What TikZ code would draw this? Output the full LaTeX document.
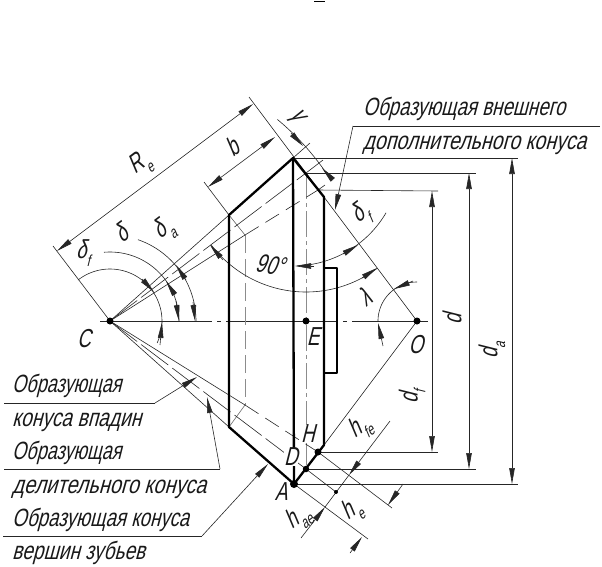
\documentclass[tikz,border=0pt]{standalone}
\usepackage{fontspec}
\usepackage{graphicx}
\setmainfont{Liberation Sans}[FakeSlant=0.25,FakeStretch=0.72]
\usetikzlibrary{arrows.meta}
\newcommand{\lowsub}[1]{\raisebox{-0.3em}{\fontsize{16}{16}\selectfont #1}}
\newcommand{\garc}[5]{\draw[thinl,domain=#4:#5,samples=60,smooth,variable=\t] plot ({#1+#3*cos(\t)},{#2-#3*sin(\t)});}
\newcommand{\widen}[2]{\scalebox{#1}[1]{#2}}
\tikzset{
 thinl/.style={line width=0.6pt,draw=black!85},
 boldl/.style={line width=2.3pt,draw=black,line cap=round,line join=round},
 tipl/.style={thinl,-{Stealth[length=16pt,width=5.5pt,inset=0pt]}},
 bothl/.style={thinl,{Stealth[length=16pt,width=5.5pt,inset=0pt]}-{Stealth[length=16pt,width=5.5pt,inset=0pt]}},
 centerl/.style={line width=1pt,draw=black!45,dash pattern=on 26pt off 4pt on 4pt off 4pt},
 hiddenl/.style={line width=1pt,draw=black!45,dash pattern=on 18pt off 6pt},
 conedash/.style={line width=0.6pt,draw=black!85,dash pattern=on 16pt off 8pt},
 conelong/.style={line width=0.6pt,draw=black!85,dash pattern=on 34pt off 5pt},
 axisl/.style={line width=0.7pt,draw=black!85,dash pattern=on 112pt off 5pt on 4pt off 5pt},
 lab/.style={font=\fontsize{26}{28}\selectfont,inner sep=0pt,text=black!90},
 captext/.style={lab,font=\fontsize{25}{28}\selectfont,anchor=base west},
 halo/.style={lab,fill=white,inner sep=0.5pt},
 dotn/.style={circle,fill=black,inner sep=0pt,minimum size=#1},
}
\begin{document}
\begin{tikzpicture}[x=1pt,y=-1pt]
\useasboundingbox (0,0) rectangle (602,566);
% key points
\coordinate (C) at (110,321); \coordinate (O) at (417,321); \coordinate (Ec) at (306,321);
\coordinate (T) at (293,158); \coordinate (A) at (294,484);
\coordinate (TL) at (229,215); \coordinate (BL) at (229,427);
\coordinate (TR) at (324,197); \coordinate (BR) at (324,445);
\coordinate (Dt) at (306,173); \coordinate (D) at (306,469);
\coordinate (Ht) at (318,190); \coordinate (H) at (318,452);
\coordinate (IT) at (245,235); \coordinate (IB) at (245,405);
\coordinate (Hub1) at (337,268); \coordinate (Hub2) at (337,373);
\coordinate (Hub3) at (324,268); \coordinate (Hub4) at (324,373);
% stray mark on top
\draw[line width=1pt] (314,1) -- (325,1);
% centre lines
\draw[axisl] (100,321) -- (428,321);
\draw[centerl] (Dt) -- (D);
\draw[hiddenl] (IT) -- (IB);
\draw[line width=0.6pt,draw=black!60] (TL) -- (IT);
\draw[line width=0.6pt,draw=black!60] (BL) -- (IB);
% cone generators
\draw[thinl] (C) -- (T) -- (310,143);
\draw[thinl] (C) -- (BL);
\draw[conelong] (C) -- (Dt);
\draw[thinl] (Dt) -- (323,160);
\draw[thinl] (C) -- (IT);
\draw[conedash] (IT) -- (Ht);
\draw[thinl] (Ht) -- (325,185);
\draw[thinl] (C) -- (IB);
\draw[conedash] (IB) -- (H);
\draw[conelong] (C) -- (D);
% back cone
\draw[thinl] (O) -- (249,97);
\draw[thinl] (O) -- (BR);
% extensions upper-left
\draw[thinl] (C) -- (53,246);
\draw[thinl] (TL) -- (204,182);
% extension horizontal + vertical dims
\draw[thinl] (T) -- (518,158);
\draw[thinl] (Dt) -- (476,173);
\draw[thinl] (Ht) -- (438,191);
\draw[thinl] (H) -- (438,452);
\draw[thinl] (D) -- (476,469);
\draw[thinl] (A) -- (518,484);
\draw[bothl] (432,191) -- (432,452);
\draw[bothl] (469,173) -- (469,469);
\draw[bothl] (512,158) -- (512,484);
% R_e and b
\draw[bothl] (57,251) -- (253,104);
\draw[bothl] (208,187) -- (275,137);
% lower-right perpendiculars
\draw[thinl] (H) -- (392,508);
\draw[thinl] (D) -- (336,492);
\draw[thinl] (A) -- (368,539);
\coordinate (hA) at (349,475); \coordinate (hB) at (325,507);
\draw[thinl] (hA) -- (hB);
\draw[tipl] (390,421) -- (hA);
\draw[tipl] (301,538) -- (hB);
\draw[tipl] (403,484) -- (388,505);
\draw[tipl] (350,553) -- (362,537);
% angular arcs
\garc{110}{321}{86}{71}{0}
\garc{110}{321}{69}{95}{0}
\garc{110}{321}{52}{128}{-25}
\garc{110}{321}{262}{50.3}{32.7}
\garc{293}{158}{108}{-88}{-30.5}
\garc{306}{173}{119}{217.2}{306.8}
\garc{417}{321}{39}{90}{180}
\draw[tipl] (186,280) -- (176,265);
\draw[tipl] (193,302) -- (195,321);
\draw[tipl] (175,295) -- (166,281);
\draw[tipl] (176,301) -- (179,321);
\draw[tipl] (142,279) -- (154,292);
\draw[tipl] (160,345) -- (162,322);
\draw[tipl] (291,133) -- (303,146);
\draw[tipl] (333,180) -- (322,168);
\draw[tipl] (314,266) -- (295,266);
\draw[tipl] (343,254) -- (358,245);
\draw[tipl] (223,260) -- (210,245);
\draw[tipl] (362,278) -- (377,268);
\draw[tipl] (413,281) -- (394,289);
\draw[tipl] (383,346) -- (378,323);
% gear outline
\draw[boldl] (TL) -- (T) -- (TR) -- (BR) -- (A) -- (BL) -- cycle;
\draw[boldl] (T) -- (A);
\draw[boldl,line width=1.8pt] (Hub3) -- (Hub1) -- (Hub2) -- (Hub4);
% leaders
\coordinate (L1a) at (353,126); \coordinate (L1b) at (600,126);
\coordinate (L2a) at (4,403); \coordinate (L2b) at (155,403);
\coordinate (L3a) at (4,469); \coordinate (L3b) at (220,469);
\coordinate (L4a) at (3,536); \coordinate (L4b) at (202,536);
\draw[thinl] (L1b) -- (L1a);
\draw[tipl] (L1a) -- (335,210);
\draw[thinl] (L2a) -- (L2b);
\draw[tipl] (L2b) -- (197,377);
\draw[thinl] (L3a) -- (L3b);
\draw[tipl] (L3b) -- (207,397);
\draw[thinl] (L4a) -- (L4b);
\draw[tipl] (L4b) -- (268,464);
% dots
\node[dotn=7pt] (nC) at (C) {};
\node[dotn=7pt] (nO) at (O) {};
\node[dotn=7pt] (nE) at (Ec) {};
\node[dotn=8pt] (nA) at (A) {};
\node[dotn=6.5pt] (nD) at (D) {};
\node[dotn=7pt] (nH) at (H) {};
\node[dotn=4pt] (nh) at (336,492) {};
% point labels
\node[lab] (tC) at (84,339) {C};
\node[lab] (tE) at (313,337) {E};
\node[lab] (tO) at (416,345) {O};
\node[halo] (tH) at (308,434) {H};
\node[halo] (tD) at (291,457) {D};
\node[lab] (tA) at (281,492) {A};
% dimension labels
\node[lab,rotate=37] (tRe) at (140,165) {R\lowsub{e}};
\node[lab,rotate=37] (tb) at (232,147) {b};
\node[lab,rotate=-53] (tg) at (296,117) {γ};
\node[lab,rotate=37] (td1) at (361,215) {δ\lowsub{f}};
\node[lab] (td2) at (83,253) {δ\lowsub{f}};
\node[lab,rotate=37] (td3) at (121,233) {δ};
\node[lab,rotate=37] (td4) at (164,230) {δ\lowsub{a}};
\node[lab,rotate=-8] (t90) at (270,265) {90°};
\node[lab,rotate=37] (tl) at (365,297) {λ};
\node[lab,rotate=90] (tdd) at (452,319) {d};
\node[lab,rotate=90] (tda) at (492,350) {d\lowsub{a}};
\node[lab,rotate=90] (tdf) at (412,397) {d\lowsub{f}};
\node[lab,rotate=37] (thfe) at (360,428) {h\lowsub{fe}};
\node[lab,rotate=37] (thae) at (298,518) {h\lowsub{ae}};
\node[lab,rotate=37] (the) at (352,511) {h\lowsub{e}};
% captions
\node[captext] (c1) at (363,115) {\widen{1.04}{Образующая внешнего}};
\node[captext] (c2) at (363,149) {\widen{1.09}{дополнительного конуса}};
\node[captext] (c3) at (12,392) {Образующая};
\node[captext] (c4) at (12,426) {\widen{1.07}{конуса впадин}};
\node[captext] (c5) at (12,459) {Образующая};
\node[captext] (c6) at (12,493) {\widen{1.11}{делительного конуса}};
\node[captext] (c7) at (12,526) {\widen{1.04}{Образующая конуса}};
\node[captext] (c8) at (12,559) {\widen{1.06}{вершин зубьев}};
\end{tikzpicture}
\end{document}
